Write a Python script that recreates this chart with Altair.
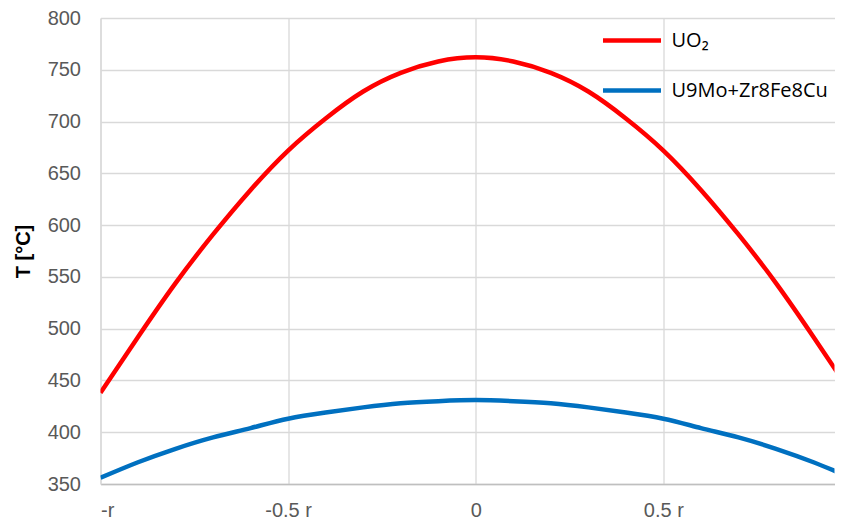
import altair as alt
import pandas as pd

# positions across the pellet (fraction of radius)
x_pos = [-1.0, -0.9, -0.8, -0.7, -0.6, -0.5, -0.4, -0.3, -0.2, -0.1, 0.0,
         0.1, 0.2, 0.3, 0.4, 0.5, 0.6, 0.7, 0.8, 0.9, 1.0]
# temperatures [°C]
uo2 = [438, 492, 544, 591, 634, 672, 703, 729, 747, 758, 762,
       758, 747, 729, 703, 672, 634, 591, 544, 492, 438]
u9mo = [356, 371, 384, 395, 404, 413, 419, 424, 428, 430, 431,
        430, 428, 424, 419, 413, 404, 395, 384, 371, 356]

series_names = ["UO₂", "U9Mo+Zr8Fe8Cu"]
series_colors = ["#ff0000", "#0070c0"]
x_ticks = [-1, -0.5, 0, 0.5]
x_tick_labels = ["-r", "-0.5 r", "0", "0.5 r"]
y_ticks = [350, 400, 450, 500, 550, 600, 650, 700, 750, 800]

rows = []
for xv, a, b in zip(x_pos, uo2, u9mo):
    rows.append({"x": xv, "T": a, "series": series_names[0]})
    rows.append({"x": xv, "T": b, "series": series_names[1]})
df = pd.DataFrame(rows)

label_expr = ""
for v, lab in zip(x_ticks, x_tick_labels):
    label_expr += f"datum.value == {v} ? '{lab}' : "
label_expr += "''"

chart = alt.Chart(df).mark_line(strokeWidth=4.5, clip=True, interpolate="natural").encode(
    x=alt.X("x:Q",
            scale=alt.Scale(domain=[-1, 0.956], nice=False, zero=False),
            axis=alt.Axis(values=x_ticks, labelExpr=label_expr, title=None,
                          grid=True, gridColor="#d9d9d9", gridWidth=1.3,
                          domainColor="#bfbfbf", domainWidth=1.5, ticks=False,
                          labelFontSize=20, labelColor="#595959",
                          labelFont="Liberation Sans", labelPadding=16)),
    y=alt.Y("T:Q",
            scale=alt.Scale(domain=[350, 800], nice=False, zero=False),
            axis=alt.Axis(values=y_ticks, title="T [°C]",
                          titleFont="Liberation Sans", titleFontSize=20,
                          titleFontWeight="bold", titleColor="#000000",
                          titlePadding=13.5,
                          grid=True, gridColor="#d9d9d9", gridWidth=1.3,
                          domainColor="#d9d9d9", domainWidth=1.3, ticks=False,
                          labelFontSize=20, labelColor="#595959",
                          labelFont="Liberation Sans", labelPadding=20)),
    color=alt.Color("series:N",
                    scale=alt.Scale(domain=series_names, range=series_colors),
                    sort=series_names,
                    legend=alt.Legend(orient="none", legendX=500, legendY=-9,
                                      title=None, symbolType="stroke",
                                      symbolStrokeWidth=4.5, symbolSize=3364,
                                      labelFont="Open Sans", labelFontSize=20,
                                      labelLimit=400,
                                      labelColor="#000000", labelOffset=8,
                                      rowPadding=8)),
).properties(
    width=734, height=466,
    padding={"left": 5.5, "top": 0, "right": 0, "bottom": 0},
).configure_view(stroke=None)

chart.save("out.html", embed_options={"renderer": "svg", "actions": False})
